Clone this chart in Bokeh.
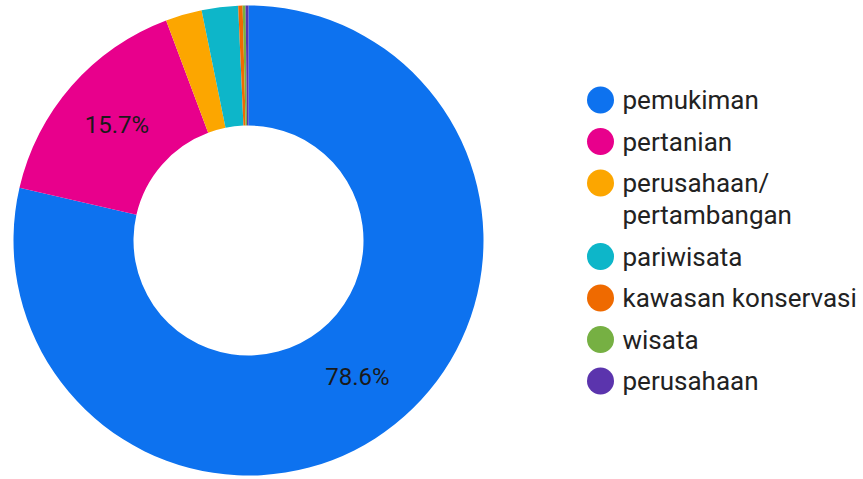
import numpy as np
from bokeh.plotting import figure
from bokeh.models import Range1d, ColumnDataSource
from bokeh.core.properties import value
from bokeh.embed import file_html
from bokeh.resources import INLINE

# ---- data ----
categories = ["pemukiman", "pertanian", "perusahaan/\npertambangan", "pariwisata",
              "kawasan konservasi", "wisata", "perusahaan"]
shares = [78.6, 15.7, 2.5, 2.5, 0.3, 0.2, 0.2]
colors = ["#0d72ef", "#e8008c", "#fca600", "#0db6c9", "#ef6a00", "#76b043", "#5b34ad"]

W, H = 863, 479
p = figure(width=W, height=H, output_backend="svg", toolbar_location=None,
           x_range=Range1d(0, W), y_range=Range1d(0, H),
           min_border=0, outline_line_color=None)
p.axis.visible = False
p.grid.visible = False
p.background_fill_color = "white"
p.border_fill_color = "white"

def sy(y):  # screen y -> data y
    return H - y

cx, cy = 248, sy(240)
r_out, r_in = 235, 115

vals = np.array(shares, dtype=float)
frac = vals / vals.sum()
cum = np.concatenate([[0], np.cumsum(frac)])
theta0 = cum[:-1] * 2 * np.pi
theta1 = cum[1:] * 2 * np.pi
start = np.pi / 2 - theta0
end = np.pi / 2 - theta1

src = ColumnDataSource(dict(start=start, end=end, color=colors))
p.annular_wedge(x=cx, y=cy, inner_radius=r_in, outer_radius=r_out,
                start_angle="start", end_angle="end", direction="clock",
                fill_color="color", line_color=None, source=src)

# slice labels
lx, ly, lt = [], [], []
r_mid = (r_in + r_out) / 2
for i, f in enumerate(frac):
    if f * 100 >= 5:
        mid = (theta0[i] + theta1[i]) / 2
        lx.append(cx + r_mid * np.sin(mid))
        ly.append(cy + r_mid * np.cos(mid))
        lt.append(f"{shares[i]:.1f}%")
p.text(x=lx, y=ly, text=lt, text_font=value("Roboto"), text_font_size="24px",
       text_color="#1a1a1a", text_align="center", text_baseline="middle")

# legend
row_gap = 41.5
line_h = 32
y = 99.5
mx, my, mc = [], [], []
tx, ty, tt = [], [], []
for name, c in zip(categories, colors):
    lines = name.split("\n")
    mx.append(600); my.append(sy(y)); mc.append(c)
    for k, ln in enumerate(lines):
        tx.append(622); ty.append(sy(y + k * line_h)); tt.append(ln)
    y += row_gap + (len(lines) - 1) * line_h
p.scatter(x=mx, y=my, size=27, marker="circle", fill_color=mc, line_color=None)
p.text(x=tx, y=ty, text=tt, text_font=value("Roboto"), text_font_size="26px",
       text_color="#222222", text_align="left", text_baseline="middle")

open("out.html", "w").write(file_html(p, INLINE))
